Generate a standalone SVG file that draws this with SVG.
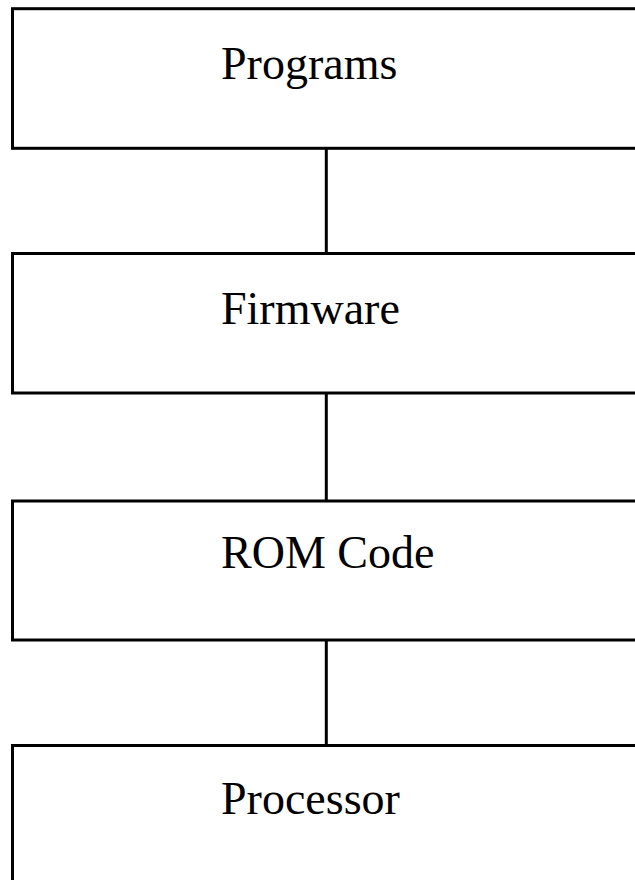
<svg xmlns="http://www.w3.org/2000/svg" width="635" height="880" viewBox="0 0 635 880">
  <style>
    .box { fill: #ffffff; stroke: #000000; stroke-width: 3; }
    .wire { stroke: #000000; stroke-width: 3; fill: none; }
    .label { font-family: "Liberation Serif", "Times New Roman", serif; font-size: 46px; fill: #000000; }
  </style>
  <rect width="635" height="880" fill="#ffffff"/>
  <!-- vertical links between the stacked layers -->
  <g id="connectors">
    <line class="wire" x1="326.3" y1="148.5" x2="326.3" y2="253.5"/>
    <line class="wire" x1="326.3" y1="393" x2="326.3" y2="501"/>
    <line class="wire" x1="326.3" y1="640" x2="326.3" y2="745.5"/>
  </g>
  <g id="programs">
    <rect class="box" x="12.5" y="8.7" width="640" height="139.6"/>
    <text class="label" x="221" y="79">Programs</text>
  </g>
  <g id="firmware">
    <rect class="box" x="12.5" y="253.5" width="640" height="139.5"/>
    <text class="label" x="221" y="324">Firmware</text>
  </g>
  <g id="rom-code">
    <rect class="box" x="12.5" y="501" width="640" height="139"/>
    <text class="label" x="221" y="568">ROM Code</text>
  </g>
  <g id="processor">
    <rect class="box" x="12.5" y="745.5" width="640" height="160"/>
    <text class="label" x="221" y="814">Processor</text>
  </g>
</svg>
